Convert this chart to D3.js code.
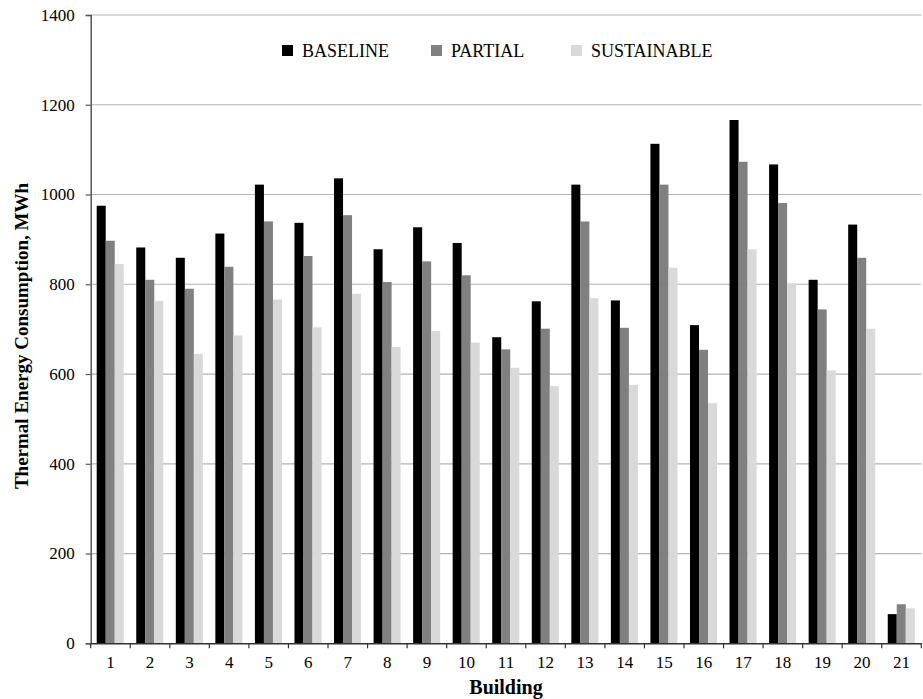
<!DOCTYPE html>
<html lang="en">

<head>
    <meta charset="UTF-8">
    <title>Thermal Energy Consumption</title>
    <style>
        body { margin: 0; background: #fff; }
        text { font-family: "Liberation Serif", "Times New Roman", serif; fill: #000; }
    </style>
</head>

<body>
    <div id="wrapper"></div>

    <script src="https://d3js.org/d3.v7.min.js"></script>
    <script>
        // data
        const buildings = d3.range(1, 22).map(String);
        const seriesNames = ['BASELINE', 'PARTIAL', 'SUSTAINABLE'];
        const baseline = [975, 882, 859, 913, 1022, 937, 1036, 878, 927, 892, 682,
            762, 1022, 764, 1113, 709, 1166, 1067, 810, 933, 65];
        const partial = [897, 810, 790, 839, 940, 863, 954, 805, 851, 820, 655,
            701, 940, 703, 1022, 654, 1073, 981, 744, 859, 87];
        const sustainable = [845, 763, 645, 686, 766, 704, 779, 660, 696, 670, 614,
            573, 769, 576, 837, 535, 878, 802, 608, 701, 78];
        const yTicks = [0, 200, 400, 600, 800, 1000, 1200, 1400];
        const colors = ['#000000', '#808080', '#d9d9d9'];

        const svgWidth = 923,
            svgHeight = 699,
            plotLeft = 90.7,
            plotRight = 921.3,
            plotTop = 15,
            plotBottom = 643.3;

        const svg = d3.select('#wrapper').append('svg')
            .attr('width', svgWidth)
            .attr('height', svgHeight);

        const x = d3.scaleBand().domain(buildings).range([plotLeft, plotRight]).padding(0);
        const xInner = d3.scaleBand().domain(seriesNames)
            .range([6, x.bandwidth() - 6.5]).padding(0);
        const y = d3.scaleLinear().domain([0, 1400]).range([plotBottom, plotTop]);

        // grid lines
        svg.append('g')
            .selectAll('line')
            .data(yTicks.filter(d => d > 0))
            .join('line')
            .attr('x1', plotLeft).attr('x2', plotRight)
            .attr('y1', d => y(d)).attr('y2', d => y(d))
            .attr('stroke', '#b3b3b3').attr('stroke-width', 1.2);

        // bars
        const table = buildings.map((b, i) => ({
            building: b,
            values: [baseline[i], partial[i], sustainable[i]]
        }));

        svg.append('g')
            .selectAll('g')
            .data(table)
            .join('g')
            .attr('transform', d => `translate(${x(d.building)},0)`)
            .selectAll('rect')
            .data(d => d.values.map((v, j) => ({ key: seriesNames[j], v: v, c: colors[j] })))
            .join('rect')
            .attr('x', d => xInner(d.key))
            .attr('width', xInner.bandwidth())
            .attr('y', d => y(d.v))
            .attr('height', d => plotBottom - y(d.v))
            .attr('fill', d => d.c);

        // y axis
        const yAxis = d3.axisLeft(y).tickValues(yTicks).tickFormat(d3.format('d'))
            .tickSize(5).tickPadding(11);
        const yG = svg.append('g')
            .attr('transform', `translate(${plotLeft},0)`)
            .call(yAxis);
        yG.select('.domain').attr('stroke', '#555').attr('stroke-width', 1.5);
        yG.selectAll('.tick line').attr('stroke', '#555').attr('stroke-width', 1.2);
        yG.selectAll('.tick text')
            .style('font-family', '"Liberation Serif", serif')
            .style('font-size', '17px').attr('fill', '#000');

        // x axis with ticks on band edges
        const xAxis = d3.axisBottom(x).tickSize(0).tickPadding(13);
        const xG = svg.append('g')
            .attr('transform', `translate(0,${plotBottom})`)
            .call(xAxis);
        xG.select('.domain').attr('stroke', '#333').attr('stroke-width', 1.5);
        xG.selectAll('.tick text')
            .style('font-family', '"Liberation Serif", serif')
            .style('font-size', '17px').attr('fill', '#000');
        xG.append('g')
            .selectAll('line')
            .data(buildings.concat(['end']))
            .join('line')
            .attr('x1', d => d === 'end' ? plotRight : x(d))
            .attr('x2', d => d === 'end' ? plotRight : x(d))
            .attr('y1', 0).attr('y2', 5)
            .attr('stroke', '#333').attr('stroke-width', 1.2);

        // axis titles
        svg.append('text')
            .attr('x', 506).attr('y', 694)
            .attr('text-anchor', 'middle')
            .style('font-size', '20px').style('font-weight', 'bold')
            .text('Building');

        svg.append('text')
            .attr('transform', 'translate(28,336) rotate(-90)')
            .attr('text-anchor', 'middle')
            .style('font-size', '19px').style('font-weight', 'bold')
            .text('Thermal Energy Consumption, MWh');

        // legend
        const legendX = [282, 431, 571];
        const legend = svg.append('g')
            .selectAll('g')
            .data(seriesNames)
            .join('g')
            .attr('transform', (d, i) => `translate(${legendX[i]},45)`);
        legend.append('rect')
            .attr('width', 11).attr('height', 11)
            .attr('fill', (d, i) => colors[i]);
        legend.append('text')
            .attr('x', 20).attr('y', 11.5)
            .style('font-size', '18px')
            .text(d => d);
    </script>
</body>

</html>
